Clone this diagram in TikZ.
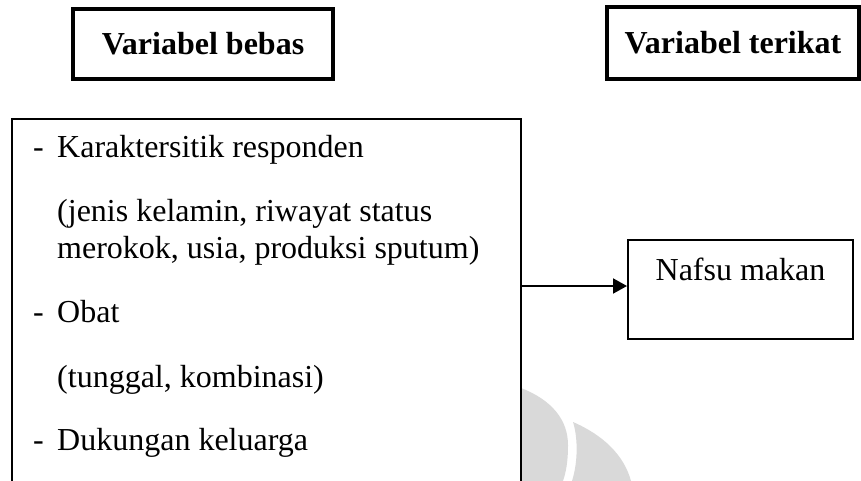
\documentclass[tikz,border=0pt]{standalone}
\usepackage{fontspec}
\setmainfont{Liberation Serif}
\usetikzlibrary{arrows.meta}
\tikzset{
  headbox/.style={draw, line width=3.4pt, rectangle, inner sep=0pt, font=\fontsize{32}{38}\selectfont\bfseries},
  plainbox/.style={draw, line width=2pt, rectangle, inner sep=0pt},
  txt/.style={anchor=base west, inner sep=0pt, font=\fontsize{32}{38}\selectfont},
  conn/.style={line width=2pt, -{Triangle[length=14pt,width=15pt]}},
  wm/.style={fill=gray!30, draw=none}
}
\begin{document}
\begin{tikzpicture}[x=1pt,y=-1pt]
\useasboundingbox (0,0) rectangle (861,481);
\clip (0,0) rectangle (861,481);
% watermark
\fill[wm] (521,388) .. controls (552,400) and (568,420) .. (568,445)
  .. controls (568,462) and (566,472) .. (563,481) -- (521,481) -- cycle;
\fill[wm] (573,422) .. controls (603,435) and (624,455) .. (631,481)
  -- (572,481) .. controls (578,462) and (578,438) .. cycle;
% headers
\node[headbox, minimum width=260pt, minimum height=70pt] (bebas) at (203,44) {Variabel bebas};
\node[headbox, minimum width=252pt, minimum height=72pt] (terikat) at (733,43) {Variabel terikat};
% independent box (open at the bottom)
\node[minimum width=509pt, minimum height=380pt, inner sep=0pt] (indep) at (266.5,309) {};
\draw[line width=2pt] (indep.south west) -- (indep.north west) -- (indep.north east) -- (indep.south east);
\node[txt] (d1) at (33,158) {-};
\node[txt] (t1) at (57,158) {Karaktersitik responden};
\node[txt] (t2) at (57,221) {(jenis kelamin, riwayat status};
\node[txt] (t3) at (57,258) {merokok, usia, produksi sputum)};
\node[txt] (d2) at (33,322) {-};
\node[txt] (t4) at (57,322) {Obat};
\node[txt] (t5) at (57,387) {(tunggal, kombinasi)};
\node[txt] (d3) at (33,450) {-};
\node[txt] (t6) at (57,450) {Dukungan keluarga};
% dependent box
\node[plainbox, minimum width=225pt, minimum height=99pt] (nafsu) at (740.5,289.5) {};
\node[anchor=base, inner sep=0pt, font=\fontsize{32}{38}\selectfont] (nafsutxt) at (740.5,280) {Nafsu makan};
% connector
\coordinate (start) at (indep.east |- 0,286);
\draw[conn] ([xshift=1pt]start) -- (nafsu.west |- start);
\end{tikzpicture}
\end{document}
